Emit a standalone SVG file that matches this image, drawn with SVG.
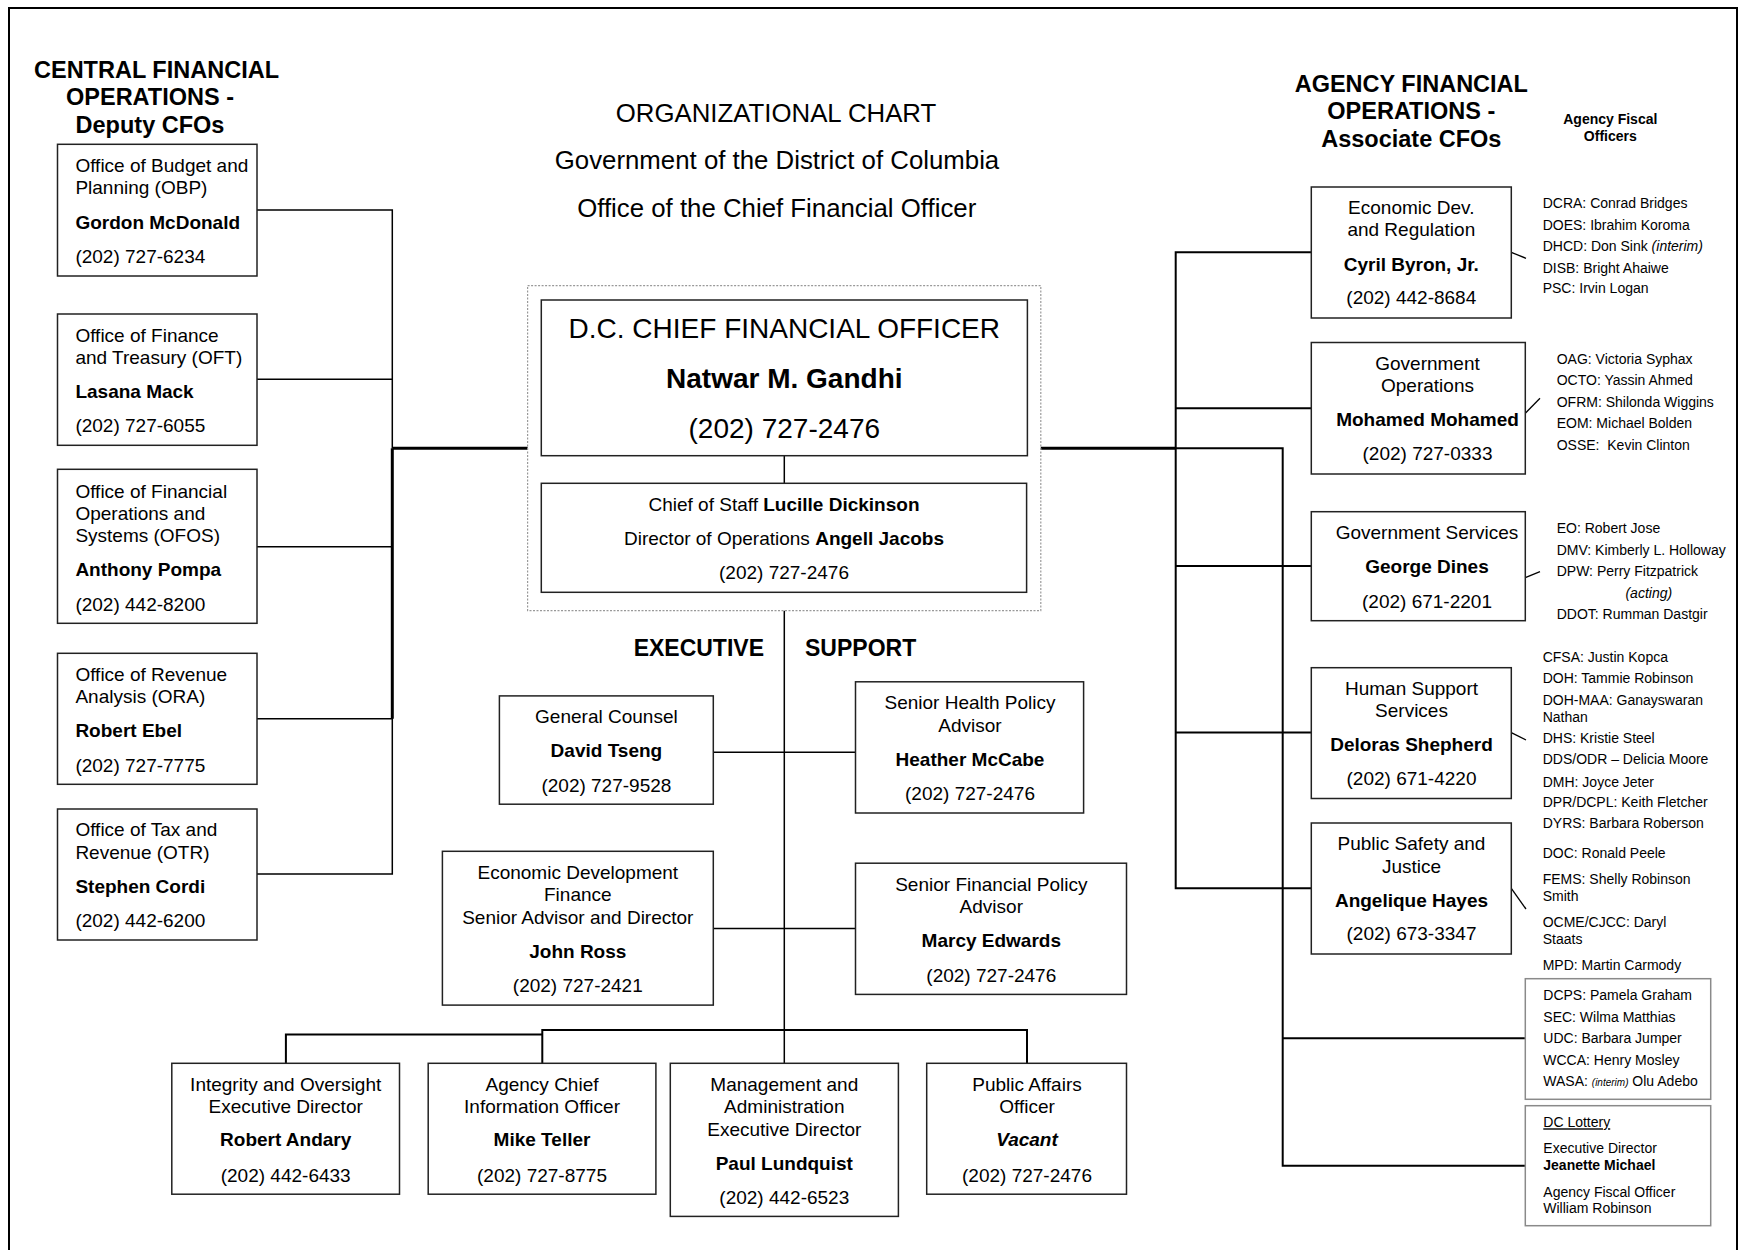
<svg xmlns="http://www.w3.org/2000/svg" width="1739" height="1250" viewBox="0 0 1739 1250">
<style>
text{font-family:"Liberation Sans",Arial,Helvetica,sans-serif;fill:#000;font-size:19px}
.c{text-anchor:middle}
.b{font-weight:bold}
.i{font-style:italic}
.s{font-size:14px}
.h{font-size:23.5px;font-weight:bold}
.ex{font-size:23px;font-weight:bold}
.big{font-size:28px}
.ti{font-size:25.8px}
.tiny{font-size:10px}
.box{fill:#fff;stroke:#222;stroke-width:1.5}
.gbox{fill:#fff;stroke:#8a8a8a;stroke-width:1.5}
.ln{fill:none;stroke:#000;stroke-width:1.5}
.med{stroke-width:2}
.thk{stroke-width:3}
.tick{fill:none;stroke:#000;stroke-width:1.3}
</style>
<rect width="1739" height="1250" fill="#fff"/>
<path d="M9,1252 V8 H1737 V1252" fill="none" stroke="#000" stroke-width="2"/>

<g id="connectors">
<path class="ln" d="M257,210 H392.3 V448.3"/>
<path class="ln" d="M257,379.3 H392.3"/>
<path class="ln thk" d="M392.3,448.3 H527.6"/>
<path class="ln thk" d="M392.3,448.3 V718.7"/>
<path class="ln" d="M257,546.7 H392.3"/>
<path class="ln" d="M257,718.7 H392.3 V874 H257"/>
<path class="ln" stroke-width="1.2" d="M784.3,455.7 V483.3"/>
<path class="ln" stroke-width="2.5" d="M784.3,610.7 V1063.3"/>
<path class="ln" d="M713.3,752.2 H855.5"/>
<path class="ln" d="M713.3,928.4 H855.5"/>
<path class="ln med" d="M285.9,1063.3 V1034.6 H542.3"/>
<path class="ln med" d="M542.3,1063.3 V1030 H1027 V1063.3"/>
<path class="ln thk" d="M1040.8,448.3 H1175.7"/>
<path class="ln med" d="M1175.7,448.3 H1282.7 V1165.7 H1525.3"/>
<path class="ln med" d="M1282.7,1038.3 H1525.3"/>
<path class="ln med" d="M1311.3,252.3 H1175.7 V888.3 H1311.3"/>
<path class="ln med" d="M1175.7,408.3 H1311.3 M1175.7,566 H1311.3 M1175.7,732.5 H1311.3"/>
<path class="tick" d="M1511.3,252.3 L1526,258.3"/>
<path class="tick" d="M1525.3,413.3 L1540,398.3"/>
<path class="tick" d="M1525.3,577.7 L1540,571.7"/>
<path class="tick" d="M1511.3,732.7 L1526,740"/>
<path class="tick" d="M1511.3,888.3 L1526,909"/>
</g>

<g id="titles">
<text class="h c" x="156.5" y="78">CENTRAL FINANCIAL</text>
<text class="h c" x="150" y="105">OPERATIONS -</text>
<text class="h c" x="150" y="133">Deputy CFOs</text>
<text class="ti c" x="776" y="121.7">ORGANIZATIONAL CHART</text>
<text class="ti c" x="777" y="169.3">Government of the District of Columbia</text>
<text class="ti c" x="776.7" y="216.7">Office of the Chief Financial Officer</text>
<text class="h c" x="1411.3" y="91.7">AGENCY FINANCIAL</text>
<text class="h c" x="1411.3" y="119.3">OPERATIONS -</text>
<text class="h c" x="1411.3" y="146.7">Associate CFOs</text>
<text class="s b c" x="1610.3" y="124">Agency Fiscal</text>
<text class="s b c" x="1610.3" y="140.7">Officers</text>
<text class="ex" x="764" y="656" text-anchor="end">EXECUTIVE</text>
<text class="ex" x="805" y="656">SUPPORT</text>
</g>

<g id="obp">
<rect class="box" x="57.5" y="144.3" width="199.5" height="131.7"/>
<text x="75.4" y="171.7">Office of Budget and</text>
<text x="75.4" y="194.3">Planning (OBP)</text>
<text class="b" x="75.4" y="229.3">Gordon McDonald</text>
<text x="75.4" y="263.3">(202) 727-6234</text>
</g>
<g id="oft">
<rect class="box" x="57.5" y="314" width="199.5" height="131.3"/>
<text x="75.4" y="342.3">Office of Finance</text>
<text x="75.4" y="364">and Treasury (OFT)</text>
<text class="b" x="75.4" y="398.3">Lasana Mack</text>
<text x="75.4" y="432.3">(202) 727-6055</text>
</g>
<g id="ofos">
<rect class="box" x="57.5" y="469.3" width="199.5" height="154"/>
<text x="75.4" y="497.7">Office of Financial</text>
<text x="75.4" y="520">Operations and</text>
<text x="75.4" y="542">Systems (OFOS)</text>
<text class="b" x="75.4" y="576">Anthony Pompa</text>
<text x="75.4" y="611">(202) 442-8200</text>
</g>
<g id="ora">
<rect class="box" x="57.5" y="653.3" width="199.5" height="131"/>
<text x="75.4" y="680.7">Office of Revenue</text>
<text x="75.4" y="703.3">Analysis (ORA)</text>
<text class="b" x="75.4" y="736.7">Robert Ebel</text>
<text x="75.4" y="772">(202) 727-7775</text>
</g>
<g id="otr">
<rect class="box" x="57.5" y="809" width="199.5" height="131"/>
<text x="75.4" y="836">Office of Tax and</text>
<text x="75.4" y="858.7">Revenue (OTR)</text>
<text class="b" x="75.4" y="893.3">Stephen Cordi</text>
<text x="75.4" y="927.3">(202) 442-6200</text>
</g>

<g id="cfo">
<rect x="527.6" y="285.7" width="513.2" height="325" fill="none" stroke="#999" stroke-width="1.2" stroke-dasharray="2,1.5"/>
<rect class="box" x="541.3" y="300" width="486.1" height="155.7" stroke-width="3"/>
<text class="c big" x="784.3" y="338.3">D.C. CHIEF FINANCIAL OFFICER</text>
<text class="c b big" x="784.3" y="388.3">Natwar M. Gandhi</text>
<text class="c big" x="784.3" y="438.3">(202) 727-2476</text>
</g>
<g id="chief-of-staff">
<rect class="box" x="541.3" y="483.3" width="485.3" height="109"/>
<text class="c" x="784" y="510.7">Chief of Staff <tspan class="b">Lucille Dickinson</tspan></text>
<text class="c" x="784" y="545">Director of Operations <tspan class="b">Angell Jacobs</tspan></text>
<text class="c" x="784" y="579.3">(202) 727-2476</text>
</g>

<g id="general-counsel">
<rect class="box" x="499.4" y="695.9" width="213.9" height="108.3"/>
<text class="c" x="606.4" y="722.7">General Counsel</text>
<text class="c b" x="606.4" y="757.2">David Tseng</text>
<text class="c" x="606.4" y="791.6">(202) 727-9528</text>
</g>
<g id="senior-health">
<rect class="box" x="855.5" y="681.8" width="228.1" height="131.2"/>
<text class="c" x="970" y="709.3">Senior Health Policy</text>
<text class="c" x="970" y="731.5">Advisor</text>
<text class="c b" x="970" y="765.6">Heather McCabe</text>
<text class="c" x="970" y="800">(202) 727-2476</text>
</g>
<g id="econ-dev-finance">
<rect class="box" x="442.4" y="851.3" width="270.9" height="153.8"/>
<text class="c" x="577.8" y="878.9">Economic Development</text>
<text class="c" x="577.8" y="900.7">Finance</text>
<text class="c" x="577.8" y="923.6">Senior Advisor and Director</text>
<text class="c b" x="577.8" y="958.1">John Ross</text>
<text class="c" x="577.8" y="991.8">(202) 727-2421</text>
</g>
<g id="senior-financial">
<rect class="box" x="855.5" y="863.2" width="271" height="131.2"/>
<text class="c" x="991.3" y="891.1">Senior Financial Policy</text>
<text class="c" x="991.3" y="912.9">Advisor</text>
<text class="c b" x="991.3" y="946.6">Marcy Edwards</text>
<text class="c" x="991.3" y="981.8">(202) 727-2476</text>
</g>

<g id="integrity">
<rect class="box" x="171.8" y="1063.3" width="227.7" height="130.9"/>
<text class="c" x="285.7" y="1091.3">Integrity and Oversight</text>
<text class="c" x="285.7" y="1113.1">Executive Director</text>
<text class="c b" x="285.7" y="1146.4">Robert Andary</text>
<text class="c" x="285.7" y="1182">(202) 442-6433</text>
</g>
<g id="acio">
<rect class="box" x="428.2" y="1063.3" width="227.7" height="130.9"/>
<text class="c" x="542" y="1091.3">Agency Chief</text>
<text class="c" x="542" y="1113.1">Information Officer</text>
<text class="c b" x="542" y="1146.4">Mike Teller</text>
<text class="c" x="542" y="1182">(202) 727-8775</text>
</g>
<g id="management">
<rect class="box" x="670.3" y="1063.3" width="228.1" height="153.1"/>
<text class="c" x="784.3" y="1091.3">Management and</text>
<text class="c" x="784.3" y="1113.1">Administration</text>
<text class="c" x="784.3" y="1136">Executive Director</text>
<text class="c b" x="784.3" y="1169.7">Paul Lundquist</text>
<text class="c" x="784.3" y="1204.2">(202) 442-6523</text>
</g>
<g id="public-affairs">
<rect class="box" x="926.7" y="1063.3" width="199.8" height="130.9"/>
<text class="c" x="1027" y="1091.3">Public Affairs</text>
<text class="c" x="1027" y="1113.1">Officer</text>
<text class="c b i" x="1027" y="1146.4">Vacant</text>
<text class="c" x="1027" y="1182">(202) 727-2476</text>
</g>

<g id="econ-dev-regulation">
<rect class="box" x="1311.3" y="187" width="200" height="131"/>
<text class="c" x="1411.3" y="214.3">Economic Dev.</text>
<text class="c" x="1411.3" y="236">and Regulation</text>
<text class="c b" x="1411.3" y="270.7">Cyril Byron, Jr.</text>
<text class="c" x="1411.3" y="304.3">(202) 442-8684</text>
<text class="s" x="1542.7" y="208.3">DCRA: Conrad Bridges</text>
<text class="s" x="1542.7" y="230">DOES: Ibrahim Koroma</text>
<text class="s" x="1542.7" y="250.7">DHCD: Don Sink <tspan class="i">(interim)</tspan></text>
<text class="s" x="1542.7" y="272.7">DISB: Bright Ahaiwe</text>
<text class="s" x="1542.7" y="293.3">PSC: Irvin Logan</text>
</g>
<g id="gov-operations">
<rect class="box" x="1311.3" y="342.5" width="214" height="131.5"/>
<text class="c" x="1427.5" y="370">Government</text>
<text class="c" x="1427.5" y="391.7">Operations</text>
<text class="c b" x="1427.5" y="426">Mohamed Mohamed</text>
<text class="c" x="1427.5" y="460">(202) 727-0333</text>
<text class="s" x="1556.7" y="364.3">OAG: Victoria Syphax</text>
<text class="s" x="1556.7" y="385">OCTO: Yassin Ahmed</text>
<text class="s" x="1556.7" y="406.7">OFRM: Shilonda Wiggins</text>
<text class="s" x="1556.7" y="428.3">EOM: Michael Bolden</text>
<text class="s" x="1556.7" y="450" xml:space="preserve">OSSE:  Kevin Clinton</text>
</g>
<g id="gov-services">
<rect class="box" x="1311.3" y="511.7" width="214" height="109"/>
<text class="c" x="1427" y="539.3">Government Services</text>
<text class="c b" x="1427" y="573.3">George Dines</text>
<text class="c" x="1427" y="607.7">(202) 671-2201</text>
<text class="s" x="1556.7" y="533.3">EO: Robert Jose</text>
<text class="s" x="1556.7" y="555.3">DMV: Kimberly L. Holloway</text>
<text class="s" x="1556.7" y="576">DPW: Perry Fitzpatrick</text>
<text class="s i c" x="1648.8" y="598.3">(acting)</text>
<text class="s" x="1556.7" y="619">DDOT: Rumman Dastgir</text>
</g>
<g id="human-support">
<rect class="box" x="1311.3" y="667.7" width="200" height="130.8"/>
<text class="c" x="1411.5" y="695">Human Support</text>
<text class="c" x="1411.5" y="716.7">Services</text>
<text class="c b" x="1411.5" y="750.7">Deloras Shepherd</text>
<text class="c" x="1411.5" y="785">(202) 671-4220</text>
<text class="s" x="1542.7" y="661.7">CFSA: Justin Kopca</text>
<text class="s" x="1542.7" y="682.7">DOH: Tammie Robinson</text>
<text class="s" x="1542.7" y="705">DOH-MAA: Ganayswaran</text>
<text class="s" x="1542.7" y="721.7">Nathan</text>
<text class="s" x="1542.7" y="742.7">DHS: Kristie Steel</text>
<text class="s" x="1542.7" y="764.3">DDS/ODR – Delicia Moore</text>
<text class="s" x="1542.7" y="786.7">DMH: Joyce Jeter</text>
<text class="s" x="1542.7" y="807.3">DPR/DCPL: Keith Fletcher</text>
<text class="s" x="1542.7" y="828.3">DYRS: Barbara Roberson</text>
</g>
<g id="public-safety">
<rect class="box" x="1311.3" y="823" width="200" height="131"/>
<text class="c" x="1411.5" y="850">Public Safety and</text>
<text class="c" x="1411.5" y="873.3">Justice</text>
<text class="c b" x="1411.5" y="906.5">Angelique Hayes</text>
<text class="c" x="1411.5" y="940">(202) 673-3347</text>
<text class="s" x="1542.7" y="858.3">DOC: Ronald Peele</text>
<text class="s" x="1542.7" y="884.3">FEMS: Shelly Robinson</text>
<text class="s" x="1542.7" y="901">Smith</text>
<text class="s" x="1542.7" y="927.3">OCME/CJCC: Daryl</text>
<text class="s" x="1542.7" y="944.3">Staats</text>
<text class="s" x="1542.7" y="970">MPD: Martin Carmody</text>
</g>
<g id="independent-agencies">
<rect class="gbox" x="1525.3" y="978.7" width="185.4" height="120.6"/>
<text class="s" x="1543.3" y="1000">DCPS: Pamela Graham</text>
<text class="s" x="1543.3" y="1022">SEC: Wilma Matthias</text>
<text class="s" x="1543.3" y="1043.3">UDC: Barbara Jumper</text>
<text class="s" x="1543.3" y="1065">WCCA: Henry Mosley</text>
<text class="s" x="1543.3" y="1086">WASA: <tspan class="i tiny">(interim)</tspan> Olu Adebo</text>
</g>
<g id="dc-lottery">
<rect class="gbox" x="1525.3" y="1105.7" width="185.4" height="120"/>
<text class="s" x="1543.3" y="1127.3" text-decoration="underline">DC Lottery</text>
<text class="s" x="1543.3" y="1153.3">Executive Director</text>
<text class="s b" x="1543.3" y="1170">Jeanette Michael</text>
<text class="s" x="1543.3" y="1196.7">Agency Fiscal Officer</text>
<text class="s" x="1543.3" y="1213.3">William Robinson</text>
</g>
</svg>
